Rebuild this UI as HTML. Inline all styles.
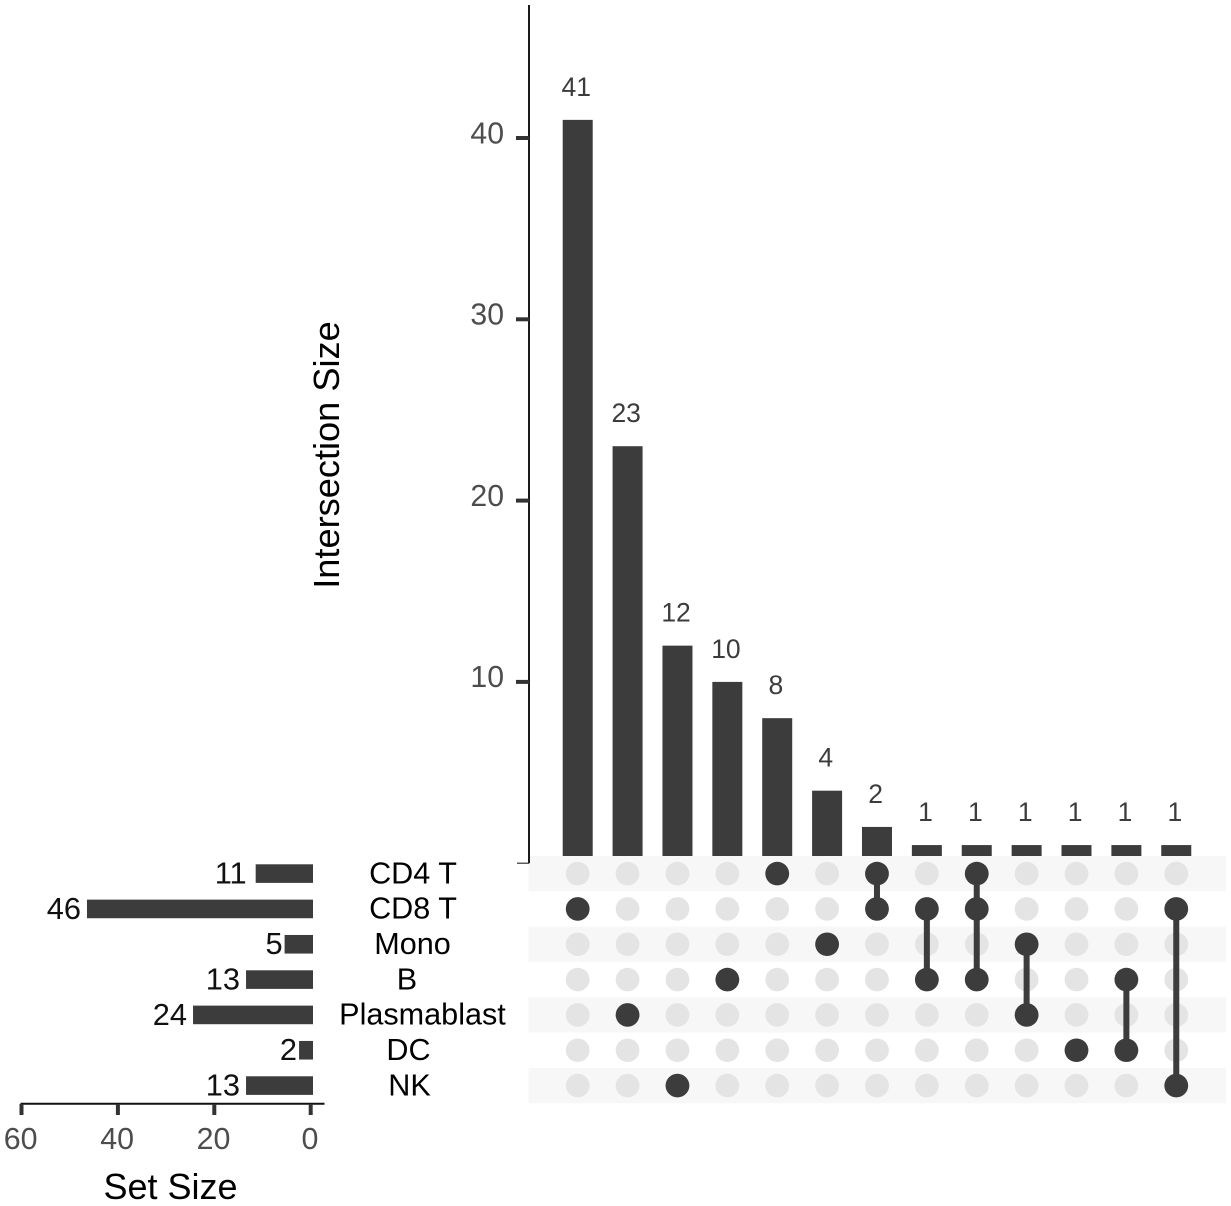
<!DOCTYPE html>
<html lang="en">
<head>
<meta charset="utf-8">
<title>UpSet plot</title>
<style>
html,body{margin:0;padding:0;background:#fff;width:1231px;height:1206px;overflow:hidden}
svg{display:block;font-family:"Liberation Sans",Arial,sans-serif}
</style>
</head>
<body>
<svg id="chart" xmlns="http://www.w3.org/2000/svg" width="1231" height="1206" viewBox="0 0 1231 1206">
  <g id="bands"></g>
  <g id="inter"></g>
  <g id="matrix"></g>
  <g id="sets"></g>
  <text transform="translate(339,455) rotate(-90)" text-anchor="middle" font-size="36.2" fill="#000">Intersection Size</text>
  <text x="170.5" y="1199" text-anchor="middle" font-size="36" fill="#000">Set Size</text>
</svg>
<script>
const setNames = ['CD4 T','CD8 T','Mono','B','Plasmablast','DC','NK'];
const setSizes = [11,46,5,13,24,2,13];
const setTicks = [60,40,20,0];
const intersectionSizes = [41,23,12,10,8,4,2,1,1,1,1,1,1];
const intersectionMembers = [
  ['CD8 T'],['Plasmablast'],['NK'],['B'],['CD4 T'],['Mono'],
  ['CD4 T','CD8 T'],['CD8 T','B'],['CD4 T','CD8 T','B'],
  ['Mono','Plasmablast'],['DC'],['B','DC'],['CD8 T','NK']
];
const intersectionTicks = [40,30,20,10,0];

const NS = 'http://www.w3.org/2000/svg';
const DARK = '#3c3c3c';
const matrixTop = 856;
const setLabelCenter = {'CD4 T':413,'CD8 T':413,'Mono':412.5,'B':407,'Plasmablast':422.5,'DC':408.5,'NK':409.5};
const valueLabelNudge = {'CD4 T':-3};

const yInter = v => 863.2 - v * 18.13;
const xCol = i => 577.7 + i * 49.88;
const yRow = i => 873.6 + i * 35.33;
const xSet = v => 310.7 - v * 4.82;

function make(parent, tag, attrs, text) {
  const el = document.createElementNS(NS, tag);
  for (const k in attrs) el.setAttribute(k, attrs[k]);
  if (text !== undefined) el.textContent = text;
  parent.appendChild(el);
  return el;
}
const bands = document.getElementById('bands');
const inter = document.getElementById('inter');
const matrix = document.getElementById('matrix');
const sets = document.getElementById('sets');

/* row bands */
setNames.forEach((name, r) => {
  if (r % 2 === 0) {
    const b = make(bands, 'rect', {x:528.5, y:yRow(r)-17.67, width:697.5, height:35.33, fill:'#f7f7f7'});
    
    
  }
});

/* intersection axis */
const yAxisLine = make(inter, 'line', {x1:529, x2:529, y1:5, y2:yInter(0), stroke:'#1a1a1a', 'stroke-width':2});


intersectionTicks.forEach(t => {
  const isZero = t === 0;
  const tick = make(inter, 'line', {x1:isZero ? 517 : 516, x2:529, y1:yInter(t), y2:yInter(t), stroke:'#333', 'stroke-width':isZero ? 1.2 : 4});
  
  
  if (!isZero) {
    const lab = make(inter, 'text', {x:504, y:yInter(t)+5.3, 'text-anchor':'end', 'font-size':30.2, fill:'#4d4d4d'}, t);
    
    
  }
});

/* intersection bars */
intersectionSizes.forEach((v, i) => {
  const top = yInter(v);
  const bar = make(inter, 'rect', {x:xCol(i)-15, y:top, width:30, height:Math.max(0, matrixTop-top), fill:DARK});
  
  
  const lab = make(inter, 'text', {x:xCol(i)-1.4, y:top-24, 'text-anchor':'middle', 'font-size':26.5, fill:'#3c3c3c'}, v);
  
  
});

/* matrix grey dots */
intersectionMembers.forEach((members, c) => {
  setNames.forEach((name, r) => {
    const dot = make(matrix, 'ellipse', {cx:xCol(c), cy:yRow(r), rx:11.9, ry:11.8, fill:'#e4e4e4'});
    
    
  });
});

/* matrix links and filled dots */
intersectionMembers.forEach((members, c) => {
  const rows = members.map(m => setNames.indexOf(m));
  if (rows.length > 1) {
    const link = make(matrix, 'line', {x1:xCol(c), x2:xCol(c), y1:yRow(Math.min(...rows)), y2:yRow(Math.max(...rows)), stroke:DARK, 'stroke-width':6});
    
    
  }
  rows.forEach(r => {
    const dot = make(matrix, 'ellipse', {cx:xCol(c), cy:yRow(r), rx:11.9, ry:11.8, fill:DARK});
    
    
  });
});

/* set size bars and labels */
setNames.forEach((name, r) => {
  const left = xSet(setSizes[r]) - 2;
  const right = xSet(0) + 2.3;
  const bar = make(sets, 'rect', {x:left, y:yRow(r)-9.3, width:right-left, height:18.6, fill:DARK});
  
  
  const gap = String(setSizes[r]).length === 1 ? 2 : 6;
  const val = make(sets, 'text', {x:left-gap+(valueLabelNudge[name] || 0), y:yRow(r)+9.9, 'text-anchor':'end', 'font-size':30.8, fill:'#111'}, setSizes[r]);
  
  
  const lab = make(sets, 'text', {x:setLabelCenter[name], y:yRow(r)+9.7, 'text-anchor':'middle', 'font-size':30.6, fill:'#000'}, name);
  
  
});

/* set size axis */
const xAxisLine = make(sets, 'line', {x1:20.5, x2:324.5, y1:1103.8, y2:1103.8, stroke:'#111', 'stroke-width':2});


setTicks.forEach(t => {
  const tick = make(sets, 'line', {x1:xSet(t), x2:xSet(t), y1:1104, y2:1115, stroke:'#333', 'stroke-width':4});
  
  
  const lab = make(sets, 'text', {x:xSet(t)-0.8, y:1148.8, 'text-anchor':'middle', 'font-size':30.4, fill:'#4d4d4d'}, t);
  
  
});
</script>
</body>
</html>
